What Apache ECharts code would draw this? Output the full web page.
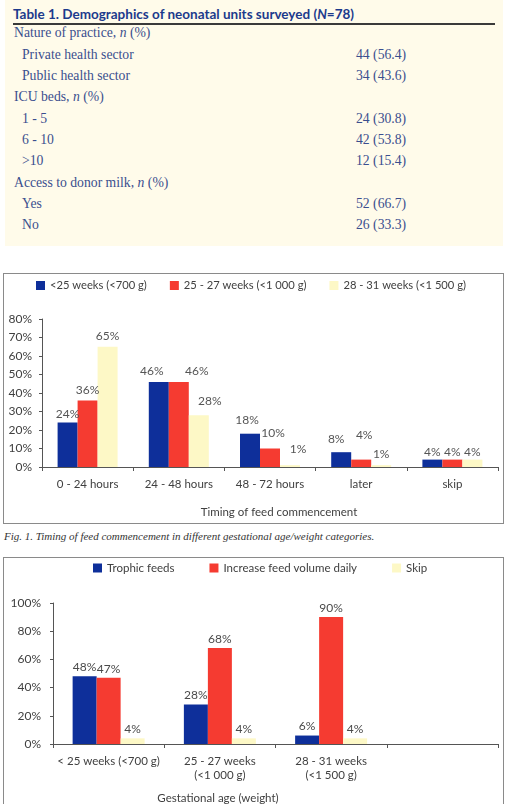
<!DOCTYPE html>
<html>
<head>
<meta charset="utf-8">
<script src="https://cdn.jsdelivr.net/npm/echarts@6/dist/echarts.min.js"></script>
<style>
  body { margin: 0; background: #fff; width: 506px; height: 804px; overflow: hidden; position: relative; }
  #table1 { position: absolute; left: 5px; top: 0; width: 498px; height: 246px; background: #fffbea; }
  #table1 .title { position: absolute; left: 8px; top: 6px; font: bold 13.5px Lato, sans-serif; color: #1c3a8c; }
  #table1 .rule { position: absolute; left: 8px; top: 23px; width: 482px; height: 2px; background: #3a3a3a; }
  #table1 .row { position: absolute; left: 0; width: 498px; height: 21px; line-height: 21px; font: 13.7px "Liberation Serif", serif; color: #3a4e8e; }
  #table1 .row span.l { position: absolute; left: 9px; }
  #table1 .row span.l.sub { left: 17px; }
  #table1 .row span.v { position: absolute; left: 351px; }
  .box { position: absolute; left: 3px; width: 501px; border: 1px solid #8a8a8a; box-sizing: border-box; background: #fff; }
  #chart1 { top: 273px; height: 251px; }
  #chart2 { top: 557px; height: 262px; }
  #caption { position: absolute; left: 4px; top: 530px; font: italic 11px "Liberation Serif", serif; color: #333; white-space: nowrap; }
</style>
</head>
<body>
<div id="table1"></div>
<div id="chart1" class="box"></div>
<div id="caption">Fig. 1. Timing of feed commencement in different gestational age/weight categories.</div>
<div id="chart2" class="box"></div>
<script>
// table 1
var tableTitle = 'Table 1. Demographics of neonatal units surveyed (<i>N</i>=78)';
var tableLabels = ['Nature of practice, <i>n</i> (%)', 'Private health sector', 'Public health sector',
  'ICU beds, <i>n</i> (%)', '1 - 5', '6 - 10', '>10', 'Access to donor milk, <i>n</i> (%)', 'Yes', 'No'];
var tableValues = ['', '44 (56.4)', '34 (43.6)', '', '24 (30.8)', '42 (53.8)', '12 (15.4)', '', '52 (66.7)', '26 (33.3)'];

// fig 1
var timingCats = ['0 - 24 hours', '24 - 48 hours', '48 - 72 hours', 'later', 'skip'];
var under25 = [24, 46, 18, 8, 4];
var wk25to27 = [36, 46, 10, 4, 4];
var wk28to31 = [65, 28, 1, 1, 4];
var yTicks1 = [0, 10, 20, 30, 40, 50, 60, 70, 80];

// fig 2
var ageCats = ['< 25 weeks (<700 g)', '25 - 27 weeks\n(<1 000 g)', '28 - 31 weeks\n(<1 500 g)', ''];
var trophic = [48, 28, 6];
var increaseDaily = [47, 68, 90];
var skipFeeds = [4, 4, 4];
var yTicks2 = [0, 20, 40, 60, 80, 100];

var html = '<div class="title">' + tableTitle + '</div><div class="rule"></div>';
for (var i = 0; i < tableLabels.length; i++) {
  var sub = tableValues[i] !== '' ? ' sub' : '';
  html += '<div class="row" style="top:' + (25.4 + i * 21.3) + 'px"><span class="l' + sub + '">' +
    tableLabels[i].replace('>1', '&gt;1') + '</span><span class="v">' + tableValues[i] + '</span></div>';
}
document.getElementById('table1').innerHTML = html;

var BLUE = '#0e2f9a', RED = '#f53b31', YELLOW = '#fdf8c6';
var FONT = 'Lato';

// hand-placed labels in the original figure
var shift1 = [
  [[0, -2], [-7, -5], [-3, -8], [-5, -7], [0, -1]],
  [[0, -4], [18, -5], [3, -9], [3, -18], [0, -1]],
  [[0, -5], [11, -8], [8, -10], [0, -5], [0, -1]]
];

function withShift(vals, s) {
  return vals.map(function (v, i) {
    return { value: v, label: { offset: s[i] } };
  });
}

function pct(v) { return v + '%'; }

function barSeries(name, color, vals, width) {
  return {
    name: name,
    type: 'bar',
    barWidth: width,
    barGap: 0,
    itemStyle: { color: color },
    label: {
      show: true, position: 'top', distance: 0,
      color: '#555', fontFamily: FONT, fontSize: 12,
      formatter: function (p) { return p.value + '%'; }
    },
    data: vals
  };
}

echarts.init(document.getElementById('chart1')).setOption({
  animation: false,
  textStyle: { fontFamily: FONT },
  legend: {
    left: 32, top: 6, padding: 0, itemWidth: 9, itemHeight: 9, itemGap: 23,
    icon: 'rect',
    textStyle: { color: '#404040', fontSize: 11.2, fontFamily: FONT },
    data: ['<25 weeks (<700 g)', '25 - 27 weeks (<1 000 g)', '28 - 31 weeks (<1 500 g)']
  },
  grid: { left: 38, right: 5, top: 45, bottom: 48 },
  xAxis: {
    type: 'category',
    data: timingCats,
    axisLine: { lineStyle: { color: '#555' } },
    axisTick: { show: true, length: 4, lineStyle: { color: '#555' } },
    axisLabel: { color: '#404040', fontSize: 11.5, margin: 11, interval: 0 },
    name: 'Timing of feed commencement',
    nameLocation: 'middle',
    nameGap: 39,
    nameTextStyle: { color: '#404040', fontSize: 11.5, padding: [0, 0, 0, 18] }
  },
  yAxis: {
    type: 'value',
    min: yTicks1[0], max: yTicks1[yTicks1.length - 1], interval: 10,
    splitLine: { show: false },
    axisLine: { show: true, lineStyle: { color: '#555' } },
    axisTick: { show: true, length: 3, lineStyle: { color: '#555' } },
    axisLabel: { color: '#404040', fontSize: 12, margin: 10, formatter: pct }
  },
  series: [
    barSeries('<25 weeks (<700 g)', BLUE, withShift(under25, shift1[0]), 20),
    barSeries('25 - 27 weeks (<1 000 g)', RED, withShift(wk25to27, shift1[1]), 20),
    barSeries('28 - 31 weeks (<1 500 g)', YELLOW, withShift(wk28to31, shift1[2]), 20)
  ]
});

var s2 = [
  barSeries('Trophic feeds', BLUE, trophic, 24),
  barSeries('Increase feed volume daily', RED, increaseDaily, 24),
  barSeries('Skip', YELLOW, skipFeeds, 24)
];
s2.forEach(function (s) { s.label.distance = 3; s.label.color = '#4a4a4a'; });

echarts.init(document.getElementById('chart2')).setOption({
  animation: false,
  textStyle: { fontFamily: FONT },
  legend: {
    left: 89, top: 4, padding: 0, itemWidth: 9, itemHeight: 9, itemGap: 35,
    icon: 'rect',
    textStyle: { color: '#404040', fontSize: 11.5, fontFamily: FONT },
    data: ['Trophic feeds', 'Increase feed volume daily', 'Skip']
  },
  grid: { left: 49, right: 5, top: 45, bottom: 74 },
  xAxis: {
    type: 'category',
    data: ageCats,
    axisLine: { lineStyle: { color: '#555' } },
    axisTick: { show: true, length: 4, lineStyle: { color: '#555' } },
    axisLabel: { color: '#404040', fontSize: 11.5, margin: 10, lineHeight: 14, interval: 0 },
    name: 'Gestational age (weight)',
    nameLocation: 'middle',
    nameGap: 48,
    nameTextStyle: { color: '#404040', fontSize: 11.5, padding: [0, 115, 0, 0] }
  },
  yAxis: {
    type: 'value',
    min: yTicks2[0], max: yTicks2[yTicks2.length - 1], interval: 20,
    splitLine: { show: false },
    axisLine: { show: true, lineStyle: { color: '#555' } },
    axisTick: { show: true, length: 3, lineStyle: { color: '#555' } },
    axisLabel: { color: '#404040', fontSize: 12, margin: 12, formatter: pct }
  },
  series: s2
});
</script>
</body>
</html>
